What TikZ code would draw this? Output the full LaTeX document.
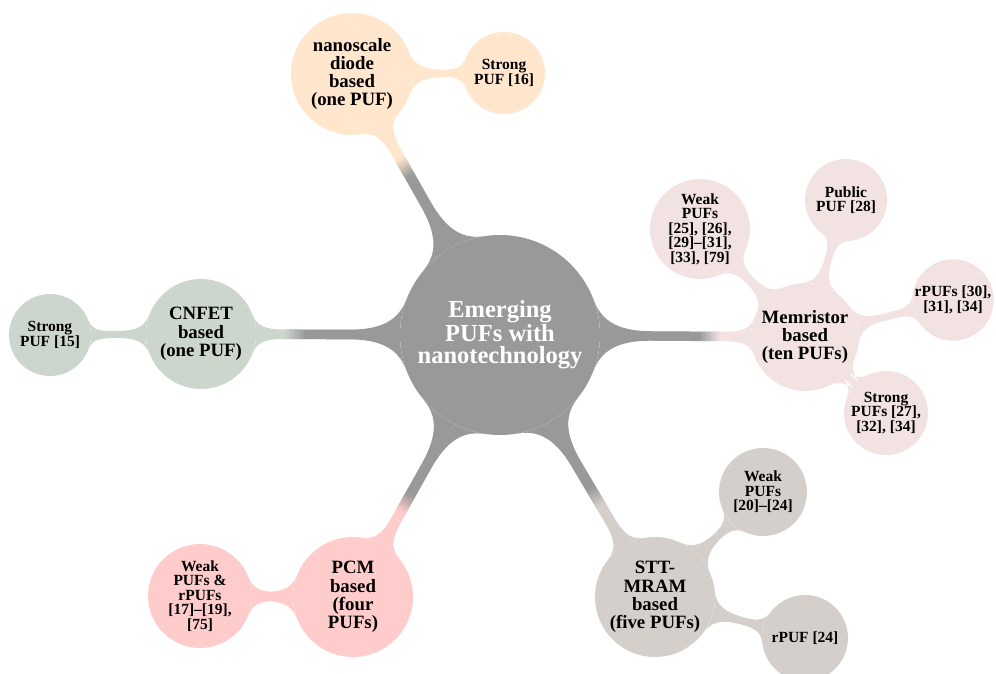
\documentclass[tikz,border=0pt]{standalone}
\usepackage{fontspec}
\setmainfont{Liberation Serif}
\usetikzlibrary{mindmap,backgrounds}
\definecolor{cRoot}{RGB}{153,153,153}
\definecolor{cNano}{RGB}{255,230,204}
\definecolor{cMem}{RGB}{242,226,226}
\definecolor{cStt}{RGB}{212,207,203}
\definecolor{cPcm}{RGB}{255,204,204}
\definecolor{cCn}{RGB}{205,214,204}
\tikzset{
  bub/.style={circle, inner sep=0pt, align=center, text width=},
  rootf/.style={font=\fontsize{24.5}{22.2}\selectfont\bfseries},
  lvone/.style={font=\fontsize{18.8}{18.3}\selectfont\bfseries},
  lvtwo/.style={font=\fontsize{15.5}{14.5}\selectfont\bfseries},
  bigbar/.style={line width=11pt},
  smallbar/.style={line width=7pt},
}
% #1 child node, #2 child colour, #3 direction angle, #4 start of colour change
\newcommand{\rootbar}[4]{%
  \path[bigbar] (root) to[circle connection bar switch color=from (#2) to (#2)] (#1);
  \begin{scope}[shift={(root)}, rotate=#3]
    \clip (-130,-90) rectangle (#4,90);
    \path[bigbar] (root) to[circle connection bar switch color=from (cRoot) to (cRoot)] (#1);
  \end{scope}
  \foreach \k in {0,...,7}{%
    \pgfmathsetmacro{\pa}{#4-0.2+2.5*\k}%
    \pgfmathsetmacro{\pb}{\pa+2.9}%
    \pgfmathtruncatemacro{\pc}{(\k+0.5)*12.5}%
    \colorlet{bd#1\k}{#2!\pc!cRoot}%
    \begin{scope}[shift={(root)}, rotate=#3]
      \clip (\pa,-90) rectangle (\pb,90);
      \path[bigbar] (root) to[circle connection bar switch color=from (bd#1\k) to (bd#1\k)] (#1);
    \end{scope}
  }%
}
\begin{document}
\begin{tikzpicture}[x=1pt,y=-1pt]
\useasboundingbox (0,0) rectangle (996,674);
% root
\node[bub, rootf, fill=cRoot, text=white, minimum size=200pt] (root) at (500,335) {Emerging\\PUFs with\\nanotechnology};
% level 1
\node[bub, lvone, fill=cNano, minimum size=122pt] (nano) at (352,74) {nanoscale\\diode\\based\\(one PUF)};
\node[bub, lvone, fill=cMem, minimum size=108pt] (mem) at (805,337) {Memristor\\based\\(ten PUFs)};
\node[bub, lvone, fill=cStt, minimum size=120pt] (stt) at (655,597) {STT-\\MRAM\\based\\(five PUFs)};
\node[bub, lvone, fill=cPcm, minimum size=120pt] (pcm) at (353,597) {PCM\\based\\(four\\PUFs)};
\node[bub, lvone, fill=cCn, minimum size=110pt] (cnfet) at (201,334) {CNFET\\based\\(one PUF)};
% level 2
\node[bub, lvtwo, fill=cNano, minimum size=82pt] (s16) at (504,73) {Strong\\PUF [16]};
\node[bub, lvtwo, fill=cMem, minimum size=100pt] (weak25) at (700,229) {Weak\\PUFs\\{[25], [26],}\\{[29]--[31],}\\{[33], [79]}};
\node[bub, lvtwo, fill=cMem, minimum size=82pt] (pub28) at (846,200) {Public\\PUF [28]};
\node[bub, lvtwo, fill=cMem, minimum size=80pt] (rpuf30) at (953,300) {rPUFs [30],\\{[31], [34]}};
\node[bub, lvtwo, fill=cMem, minimum size=84pt] (strong27) at (886,413) {Strong\\PUFs [27],\\{[32], [34]}};
\node[bub, lvtwo, fill=cStt, minimum size=88pt] (weak20) at (763,492) {Weak\\PUFs\\{[20]--[24]}};
\node[bub, lvtwo, fill=cStt, minimum size=86pt] (rpuf24) at (805,638) {rPUF [24]};
\node[bub, lvtwo, fill=cPcm, minimum size=104pt] (weak17) at (200,596) {Weak\\PUFs \&\\rPUFs\\{[17]--[19],}\\{[75]}};
\node[bub, lvtwo, fill=cCn, minimum size=82pt] (s15) at (50,335) {Strong\\PUF [15]};
% connection bars
\begin{pgfonlayer}{background}
\rootbar{nano}{cNano}{119.55}{183}
\rootbar{mem}{cMem}{-0.4}{200}
\rootbar{stt}{cStt}{-59.4}{178}
\rootbar{pcm}{cPcm}{-119.3}{183}
\rootbar{cnfet}{cCn}{179.8}{195}
\path[smallbar] (nano) to[circle connection bar switch color=from (cNano) to (cNano)] (s16);
\path[smallbar] (mem) to[circle connection bar switch color=from (cMem) to (cMem)] (weak25);
\path[smallbar] (mem) to[circle connection bar switch color=from (cMem) to (cMem)] (pub28);
\path[smallbar] (mem) to[circle connection bar switch color=from (cMem) to (cMem)] (rpuf30);
\path[smallbar] (mem) to[circle connection bar switch color=from (cMem) to (cMem)] (strong27);
\path[smallbar] (stt) to[circle connection bar switch color=from (cStt) to (cStt)] (weak20);
\path[smallbar] (stt) to[circle connection bar switch color=from (cStt) to (cStt)] (rpuf24);
\path[smallbar] (pcm) to[circle connection bar switch color=from (cPcm) to (cPcm)] (weak17);
\path[smallbar] (cnfet) to[circle connection bar switch color=from (cCn) to (cCn)] (s15);
\end{pgfonlayer}
\end{tikzpicture}
\end{document}
